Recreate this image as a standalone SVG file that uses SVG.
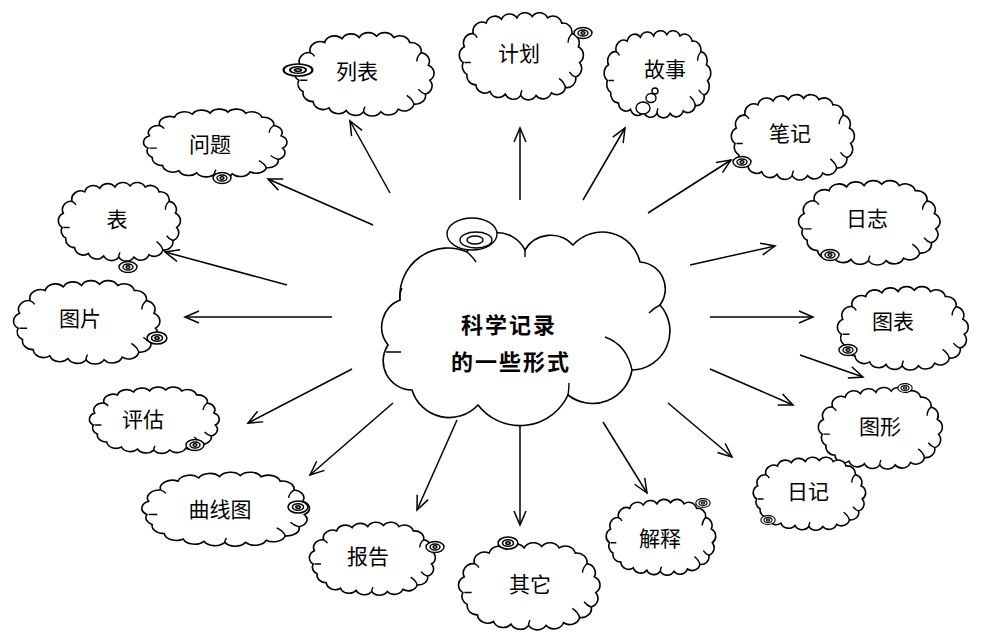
<svg xmlns="http://www.w3.org/2000/svg" xmlns:xlink="http://www.w3.org/1999/xlink" width="985" height="635" viewBox="0 0 985 635">
<style>
.co{fill:#fff;stroke:#000;stroke-width:1.6;vector-effect:non-scaling-stroke}
.tk{fill:none;stroke:#000;stroke-width:1.4;vector-effect:non-scaling-stroke}
.sw{fill:#fff;stroke:#000;stroke-width:1.4}
.sw2{fill:none;stroke:#000;stroke-width:1.4}
.ar{fill:none;stroke:#000;stroke-width:1.5;marker-end:url(#ah)}
.t{font-family:"Noto Sans CJK SC","Noto Sans",sans-serif;font-size:21px;text-anchor:middle;dominant-baseline:central;fill:#000}
.tb{font-family:"Noto Sans CJK SC","Noto Sans",sans-serif;font-size:22px;font-weight:bold;text-anchor:middle;dominant-baseline:central;fill:#000;letter-spacing:2px}
</style>
<defs>
<marker id="ah" viewBox="0 0 16 14" refX="15" refY="7" markerWidth="16" markerHeight="14" markerUnits="userSpaceOnUse" orient="auto" overflow="visible">
<path d="M1,1 L15,7 L1,13" fill="none" stroke="#000" stroke-width="1.5"/>
</marker>
<g id="cloud">
<path class="co" d="M4,40 A7,7 0 0 1 5,28 A7,7 0 0 1 12,18 A7,7 0 0 1 22,10 A7,7 0 0 1 34,7 A7,7 0 0 1 46,6 A7,7 0 0 1 58,5 A7,7 0 0 1 70,6 A7,7 0 0 1 81,10 A7,7 0 0 1 89,18 A7,7 0 0 1 94,28 A7,7 0 0 1 95,40 A7,7 0 0 1 92,51 A7,7 0 0 1 84,59 A7,7 0 0 1 73,63 A7,7 0 0 1 61,65 A7,7 0 0 1 49,65 A7,7 0 0 1 37,64 A7,7 0 0 1 25,62 A7,7 0 0 1 14,57 A7,7 0 0 1 7,49 A7,7 0 0 1 4,40 Z"/>
<path class="tk" d="M89,18 q-3,3 -3,7 M84,59 q-1,-4 -5,-7 M5,40 h5 M49,65 q0,-2 1,-4 M92,51 q-3,-1 -5,-4 M12,18 q2,1 3,3"/>
</g>
<g id="sw">
<ellipse class="sw" rx="9" ry="5.5"/>
<ellipse class="sw2" rx="5" ry="3"/>
<ellipse class="sw2" rx="2" ry="1.2"/>
</g>
</defs>
<rect width="985" height="635" fill="#fff"/>

<g id="connectors">
<line class="ar" x1="390" y1="193" x2="350" y2="121"/>
<line class="ar" x1="520" y1="200" x2="520" y2="128"/>
<line class="ar" x1="583" y1="200" x2="625" y2="128"/>
<line class="ar" x1="648" y1="213" x2="731" y2="160"/>
<line class="ar" x1="690" y1="265" x2="775" y2="246"/>
<line class="ar" x1="710" y1="317" x2="813" y2="317"/>
<line class="ar" x1="800" y1="355" x2="863" y2="377"/>
<line class="ar" x1="710" y1="369" x2="793" y2="405"/>
<line class="ar" x1="668" y1="403" x2="732" y2="457"/>
<line class="ar" x1="603" y1="422" x2="647" y2="493"/>
<line class="ar" x1="520" y1="420" x2="520" y2="525"/>
<line class="ar" x1="457" y1="420" x2="417" y2="510"/>
<line class="ar" x1="393" y1="403" x2="310" y2="475"/>
<line class="ar" x1="352" y1="369" x2="248" y2="423"/>
<line class="ar" x1="332" y1="317" x2="185" y2="317"/>
<line class="ar" x1="287" y1="285" x2="165" y2="252"/>
<line class="ar" x1="373" y1="225" x2="268" y2="179"/>
</g>

<g id="center">
<path class="co" d="M400,300 A48,48 0 0 1 467,252 A32,32 0 0 1 525,250 A30,30 0 0 1 573,245 A39,39 0 0 1 640,262 A27,27 0 0 1 660,305 A39,39 0 0 1 632,370 A40,40 0 0 1 568,395 A53,53 0 0 1 478,405 A39,39 0 0 1 412,390 A29,29 0 0 1 388,345 A29,29 0 0 1 400,300 Z"/>
<path class="tk" d="M632,370 q-5,-25 -27,-33 M568,395 q1,-6 1,-12 M400,300 q-1,-6 2,-12 M386,352 h15 M467,252 q5,4 9,10 M525,250 v7 M660,305 q-6,3 -11,8"/>
<ellipse class="sw" cx="472" cy="234" rx="25" ry="16"/>
<ellipse class="sw2" cx="476" cy="240" rx="16" ry="8"/>
<ellipse class="sw2" cx="475" cy="240" rx="8" ry="4"/>
<text class="tb" x="509" y="323">科学记录</text>
<text class="tb" x="511" y="360">的一些形式</text>
</g>

<g id="n-liebiao">
<use href="#cloud" transform="translate(293,30) scale(1.44,1.257)"/>
<use href="#sw" transform="translate(298,70) scale(1.6,1.1)"/>
<text class="t" x="357" y="70">列表</text>
</g>
<g id="n-jihua">
<use href="#cloud" transform="translate(458,10) scale(1.28,1.314)"/>
<use href="#sw" transform="translate(583,33)"/>
<text class="t" x="519" y="52">计划</text>
</g>
<g id="n-gushi">
<use href="#cloud" transform="translate(603,28) scale(1.1,1.314)"/>
<ellipse class="sw" cx="643" cy="108" rx="7" ry="6"/>
<ellipse class="sw" cx="651" cy="98" rx="5" ry="4.5"/>
<ellipse class="sw" cx="655" cy="91" rx="3" ry="3"/>
<text class="t" x="665" y="68">故事</text>
</g>
<g id="n-biji">
<use href="#cloud" transform="translate(730,92) scale(1.27,1.286)"/>
<use href="#sw" transform="translate(742,162)"/>
<text class="t" x="790" y="132">笔记</text>
</g>
<g id="n-rizhi">
<use href="#cloud" transform="translate(797,178) scale(1.46,1.271)"/>
<use href="#sw" transform="translate(830,255)"/>
<text class="t" x="867" y="217">日志</text>
</g>
<g id="n-tubiao">
<use href="#cloud" transform="translate(836,284) scale(1.35,1.257)"/>
<use href="#sw" transform="translate(848,350)"/>
<text class="t" x="893" y="320">图表</text>
</g>
<g id="n-tuxing">
<use href="#cloud" transform="translate(817,385) scale(1.28,1.229)"/>
<use href="#sw" transform="translate(905,388) scale(0.8)"/>
<text class="t" x="880" y="425">图形</text>
</g>
<g id="n-riji">
<use href="#cloud" transform="translate(752,455) scale(1.16,1.1)"/>
<use href="#sw" transform="translate(768,520) scale(0.8)"/>
<text class="t" x="808" y="490">日记</text>
</g>
<g id="n-jieshi">
<use href="#cloud" transform="translate(605,497) scale(1.13,1.143)"/>
<use href="#sw" transform="translate(703,503) scale(0.8)"/>
<text class="t" x="660" y="537">解释</text>
</g>
<g id="n-qita">
<use href="#cloud" transform="translate(457,540) scale(1.46,1.314)"/>
<use href="#sw" transform="translate(508,543) scale(1.1)"/>
<text class="t" x="530" y="583">其它</text>
</g>
<g id="n-baogao">
<use href="#cloud" transform="translate(308,520) scale(1.3,1.1)"/>
<use href="#sw" transform="translate(435,547)"/>
<text class="t" x="368" y="555">报告</text>
</g>
<g id="n-quxiantu">
<use href="#cloud" transform="translate(140,470) scale(1.73,1.114)"/>
<use href="#sw" transform="translate(298,507) scale(1.1)"/>
<text class="t" x="220" y="508">曲线图</text>
</g>
<g id="n-pinggu">
<use href="#cloud" transform="translate(88,385) scale(1.34,1.0)"/>
<use href="#sw" transform="translate(195,445)"/>
<text class="t" x="143" y="418">评估</text>
</g>
<g id="n-tupian">
<use href="#cloud" transform="translate(12,278) scale(1.51,1.257)"/>
<use href="#sw" transform="translate(157,338) scale(1.1)"/>
<text class="t" x="80" y="317">图片</text>
</g>
<g id="n-biao">
<use href="#cloud" transform="translate(57,180) scale(1.26,1.186)"/>
<use href="#sw" transform="translate(128,267)"/>
<text class="t" x="117" y="218">表</text>
</g>
<g id="n-wenti">
<use href="#cloud" transform="translate(142,107) scale(1.48,1.029)"/>
<use href="#sw" transform="translate(222,178)"/>
<text class="t" x="210" y="143">问题</text>
</g>
</svg>
